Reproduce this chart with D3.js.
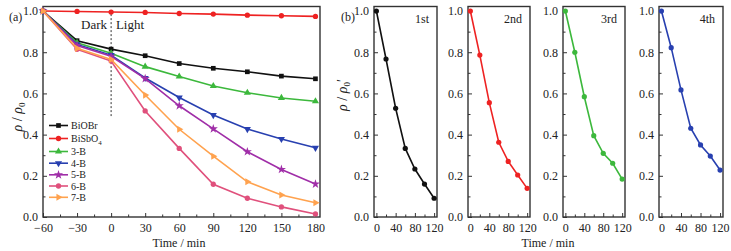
<!DOCTYPE html>
<html>
<head>
<meta charset="utf-8">
<script src="https://cdn.jsdelivr.net/npm/d3@7"></script>
<style>
  body { margin: 0; background: #fff; }
  svg text { font-family: "Liberation Serif", "DejaVu Serif", "Noto Serif", serif; fill: #222; }
</style>
</head>
<body>
<div id="wrapper"></div>
<script>
// panel (a) data
const timeA = [-60, -30, 0, 30, 60, 90, 120, 150, 180];
const biobr  = [1.0, 0.856, 0.815, 0.783, 0.745, 0.722, 0.705, 0.684, 0.671];
const bisbo4 = [1.0, 0.998, 0.995, 0.993, 0.988, 0.985, 0.980, 0.977, 0.974];
const b3 = [1.0, 0.846, 0.795, 0.730, 0.682, 0.636, 0.603, 0.578, 0.562];
const b4 = [1.0, 0.838, 0.786, 0.675, 0.580, 0.495, 0.427, 0.379, 0.336];
const b5 = [1.0, 0.833, 0.780, 0.672, 0.540, 0.428, 0.317, 0.231, 0.160];
const b6 = [1.0, 0.814, 0.757, 0.515, 0.333, 0.159, 0.091, 0.049, 0.015];
const b7 = [1.0, 0.819, 0.765, 0.592, 0.426, 0.295, 0.171, 0.107, 0.069];
const namesA = ["BiOBr", "BiSbO4", "3-B", "4-B", "5-B", "6-B", "7-B"];
const colorsA = ["#111111", "#ee2222", "#3cb83c", "#2840b0", "#a02ea8", "#e0507c", "#ffa24e"];
const xTicksA = [-60, -30, 0, 30, 60, 90, 120, 150, 180];

// panel (b) data: four recycling runs
const timeB = [0, 20, 40, 60, 80, 100, 120];
const run1 = [1.0, 0.767, 0.528, 0.333, 0.233, 0.160, 0.091];
const run2 = [1.0, 0.786, 0.555, 0.363, 0.270, 0.204, 0.139];
const run3 = [1.0, 0.800, 0.584, 0.395, 0.309, 0.261, 0.184];
const run4 = [1.0, 0.822, 0.617, 0.431, 0.350, 0.296, 0.228];
const runNames = ["1st", "2nd", "3rd", "4th"];
const runColors = ["#111111", "#ee2222", "#3cb83c", "#2840b0"];
const xTicksB = [0, 40, 80, 120];
const yTicks = [0, 0.2, 0.4, 0.6, 0.8, 1.0];

const width = 731, height = 251;
const svg = d3.select("#wrapper").append("svg")
  .attr("width", width).attr("height", height);

const yScale = d3.scaleLinear().domain([0, 1.022]).range([217, 6.5]);
const axisColor = "#333";

function drawFrame(x0, x1, xScale, xTicks, xMinor) {
  const g = svg.append("g");
  // y axis
  g.append("g").attr("transform", `translate(${x0},0)`)
    .call(d3.axisLeft(yScale).tickValues(yTicks).tickSize(-4).tickPadding(5).tickFormat(d3.format(".1f")));
  g.append("g").attr("transform", `translate(${x0},0)`)
    .call(d3.axisLeft(yScale).tickValues([0.1, 0.3, 0.5, 0.7, 0.9]).tickSize(-2.5).tickFormat(""));
  // x axis
  g.append("g").attr("transform", `translate(0,${yScale(0)})`)
    .call(d3.axisBottom(xScale).tickValues(xTicks).tickSize(-4).tickPadding(6).tickFormat(d => d < 0 ? "\u2212" + (-d) : d));
  g.append("g").attr("transform", `translate(0,${yScale(0)})`)
    .call(d3.axisBottom(xScale).tickValues(xMinor).tickSize(-2.5).tickFormat(""));
  g.selectAll(".domain").remove();
  g.selectAll("g").attr("font-family", null);
  g.selectAll(".tick line").attr("stroke", axisColor);
  g.selectAll(".tick text").attr("font-size", 12).attr("fill", "#222");
  g.append("rect")
    .attr("x", x0).attr("y", yScale(1.022))
    .attr("width", x1 - x0).attr("height", yScale(0) - yScale(1.022))
    .attr("fill", "none").attr("stroke", axisColor).attr("stroke-width", 1.4);
  return g;
}

// ---------- panel (a)
const xA = d3.scaleLinear().domain([-60, 184]).range([43, 320]);
drawFrame(43, 320, xA, xTicksA, [-45, -15, 15, 45, 75, 105, 135, 165]);

const seriesA = [biobr, bisbo4, b3, b4, b5, b6, b7];
const symbolsA = [
  {type: d3.symbolSquare, size: 22, rot: 0},
  {type: d3.symbolCircle, size: 22, rot: 0},
  {type: d3.symbolTriangle, size: 22, rot: 0},
  {type: d3.symbolTriangle, size: 22, rot: 180},
  {type: d3.symbolStar, size: 26, rot: 0},
  {type: d3.symbolCircle, size: 22, rot: 0},
  {type: d3.symbolTriangle, size: 22, rot: 90}
];

const lineA = d3.line().x((d, i) => xA(timeA[i])).y(d => yScale(d));

// dashed divider between dark and light stages
svg.append("line")
  .attr("x1", xA(0)).attr("x2", xA(0))
  .attr("y1", yScale(0.985)).attr("y2", yScale(0.49))
  .attr("stroke", "#333").attr("stroke-width", 1).attr("stroke-dasharray", "2,2");

seriesA.forEach((vals, k) => {
  svg.append("path").attr("d", lineA(vals))
    .attr("fill", "none").attr("stroke", colorsA[k]).attr("stroke-width", 1.6);
  svg.append("g").selectAll("path").data(vals).join("path")
    .attr("d", d3.symbol(symbolsA[k].type, symbolsA[k].size))
    .attr("transform", (d, i) => `translate(${xA(timeA[i])},${yScale(d)}) rotate(${symbolsA[k].rot})`)
    .attr("fill", colorsA[k]);
});

svg.append("text").attr("x", 94).attr("y", 29).attr("text-anchor", "middle")
  .attr("font-size", 13).text("Dark");
svg.append("text").attr("x", 130).attr("y", 29).attr("text-anchor", "middle")
  .attr("font-size", 13).text("Light");

// legend
const legendY = [125.5, 138.5, 151.5, 163.2, 174.8, 186, 197.3];
namesA.forEach((name, k) => {
  const g = svg.append("g").attr("transform", `translate(0,${legendY[k]})`);
  g.append("line").attr("x1", 49).attr("x2", 68).attr("stroke", colorsA[k]).attr("stroke-width", 1.6);
  g.append("path").attr("d", d3.symbol(symbolsA[k].type, symbolsA[k].size)())
    .attr("transform", `translate(58.5,0) rotate(${symbolsA[k].rot})`).attr("fill", colorsA[k]);
  const t = g.append("text").attr("x", 71).attr("y", 3.5).attr("font-size", 10);
  if (name === "BiSbO4") {
    t.append("tspan").text("BiSbO");
    t.append("tspan").attr("font-size", 7).attr("dy", 2.5).text("4");
  } else {
    t.text(name);
  }
});

function yLabel(x, y, prime) {
  const t = svg.append("text").attr("transform", `translate(${x},${y}) rotate(-90)`)
    .attr("text-anchor", "middle").attr("font-size", 14);
  t.append("tspan").attr("font-style", "italic").text("\u03c1");
  t.append("tspan").text(" / ");
  t.append("tspan").attr("font-style", "italic").text("\u03c1");
  t.append("tspan").attr("font-size", 9).attr("dy", 3).text("0");
  if (prime) t.append("tspan").attr("dy", -3).text("\u2032");
}
yLabel(22, 117, false);
svg.append("text").attr("x", 9).attr("y", 21).attr("font-size", 12).text("(a)");
svg.append("text").attr("x", 179).attr("y", 247).attr("text-anchor", "middle")
  .attr("font-size", 12).text("Time / min");

// ---------- panel (b)
const runs = [run1, run2, run3, run4];
const panelsB = [[374, 437], [468, 530], [563, 625], [659, 723]];
runs.forEach((vals, k) => {
  const [x0, x1] = panelsB[k];
  const xB = d3.scaleLinear().domain([-5, 126]).range([x0, x1]);
  drawFrame(x0, x1, xB, xTicksB, [20, 60, 100]);
  const lineB = d3.line().x((d, i) => xB(timeB[i])).y(d => yScale(d));
  svg.append("path").attr("d", lineB(vals))
    .attr("fill", "none").attr("stroke", runColors[k]).attr("stroke-width", 1.6);
  svg.append("g").selectAll("circle").data(vals).join("circle")
    .attr("cx", (d, i) => xB(timeB[i])).attr("cy", d => yScale(d))
    .attr("r", 2.6).attr("fill", runColors[k]);
  svg.append("text").attr("x", x1 - 8).attr("y", 23).attr("text-anchor", "end")
    .attr("font-size", 12).text(runNames[k]);
});
yLabel(347, 95, true);
svg.append("text").attr("x", 341).attr("y", 21).attr("font-size", 12).text("(b)");
svg.append("text").attr("x", 548).attr("y", 247).attr("text-anchor", "middle")
  .attr("font-size", 12).text("Time / min");
</script>
</body>
</html>
